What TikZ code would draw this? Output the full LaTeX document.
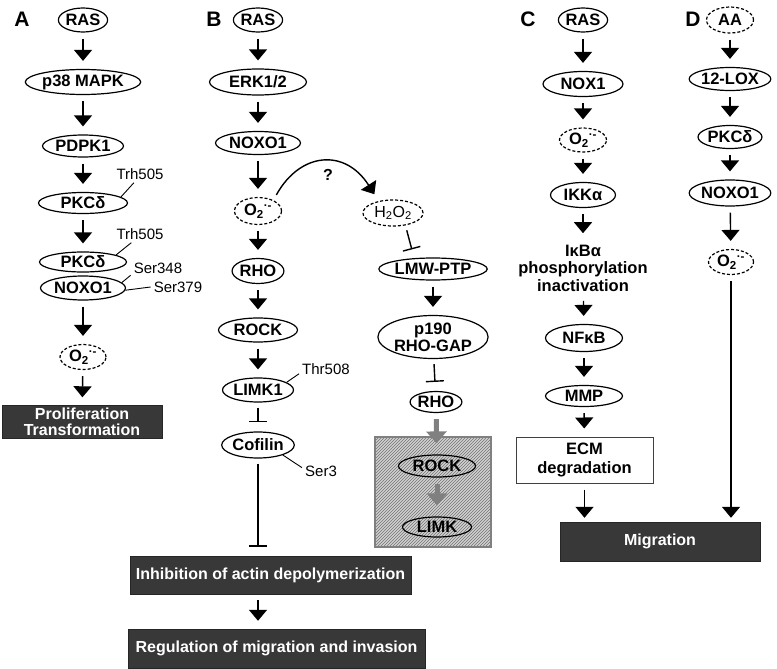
\documentclass[tikz,border=0pt]{standalone}
\usepackage{fontspec}
\setmainfont{Liberation Sans}
\usetikzlibrary{shapes.geometric,arrows.meta,patterns}

\begin{document}
\begin{tikzpicture}[x=1pt,y=-1pt,
    prot/.style={ellipse,draw,line width=1.2pt,inner sep=0pt,font=\bfseries\fontsize{16.5}{18}\selectfont},
    ros/.style={prot,dash pattern=on 3pt off 2pt},
    act/.style={-{Triangle[width=18pt,length=11pt]},line width=1.4pt,shorten <=6pt,shorten >=8pt},
    inh/.style={-{Bar[width=18pt]},line width=1.4pt,shorten <=5pt,shorten >=9pt},
    gact/.style={-{Triangle[width=20pt,length=12pt]},line width=5pt,black!50,shorten <=6pt,shorten >=11pt},
    site/.style={font=\fontsize{15}{17}\selectfont,inner sep=3pt},
    tick/.style={line width=0.9pt},
    outbox/.style={draw=black!85,fill=black!78,text=white,align=center,inner sep=0pt,font=\bfseries\fontsize{16}{16.5}\selectfont},
    hatchbox/.style={draw=black!50,line width=1.2pt,preaction={fill=black!18},pattern=north east lines,pattern color=black!55,inner sep=0pt},
    panel/.style={font=\bfseries\fontsize{21}{23}\selectfont}]
  \useasboundingbox (0,0) rectangle (777,669);

  % A
  \node[panel] (labA) at (22,19) {A};
  \node[prot,minimum width=49,minimum height=24] (rasA) at (83,20) {RAS};
  \node[prot,minimum width=109,minimum height=25] (p38) at (83,82) {p38 MAPK};
  \node[prot,minimum width=81,minimum height=22] (pdpk) at (83,146) {PDPK1};
  \node[prot,minimum width=89,minimum height=21] (pkcA) at (83,203) {PKCδ};
  \node[prot,minimum width=87,minimum height=20] (pkcB) at (83,262) {PKCδ};
  \node[prot,minimum width=85,minimum height=24] (noxoA) at (83,288) {NOXO1};
  \node[ros,minimum width=46,minimum height=25] (o2A) at (83,357) {O\textsubscript{2}\textsuperscript{·-}};
  \node[outbox,minimum width=160,minimum height=33] (prolif) at (82,422) {Proliferation\\Transformation};
  \node[site] (trhA) at (140,174) {Trh505};
  \node[site] (trhB) at (140,234) {Trh505};
  \node[site] (ser348) at (158,268) {Ser348};
  \node[site] (ser379) at (178,287) {Ser379};
  \draw[tick] (pkcA.9) -- (trhA.-125);
  \draw[tick] (pkcB.12) -- (trhB.-135);
  \draw[tick] (noxoA.8) -- (ser348.195);
  \draw[tick] (noxoA.-3) -- (ser379.west);
  \draw[act] (rasA) -- (p38);
  \draw[act] (p38) -- (pdpk);
  \draw[act] (pdpk) -- (pkcA);
  \draw[act] (pkcA) -- (pkcB);
  \draw[act] (noxoA) -- (o2A);
  \draw[act] (o2A) -- (prolif);

  % B
  \node[panel] (labB) at (214,19) {B};
  \node[prot,minimum width=49,minimum height=24] (rasB) at (258,20) {RAS};
  \node[prot,minimum width=97,minimum height=26] (erk) at (258,82) {ERK1/2};
  \node[prot,minimum width=85,minimum height=23] (noxoB) at (258,143) {NOXO1};
  \node[ros,minimum width=47,minimum height=27] (o2B) at (258,211) {O\textsubscript{2}\textsuperscript{·-}};
  \node[prot,minimum width=50,minimum height=25] (rhoB) at (258,271) {RHO};
  \node[prot,minimum width=79,minimum height=24] (rockB) at (258,330) {ROCK};
  \node[prot,minimum width=71,minimum height=24] (limk1) at (258,390) {LIMK1};
  \node[prot,minimum width=70,minimum height=26] (cofilin) at (258,445) {Cofilin};
  \node[site] (thr508) at (326,369) {Thr508};
  \node[site] (ser3) at (321,471) {Ser3};
  \draw[tick] (limk1.15) -- (thr508.190);
  \draw[tick] (cofilin.-22) -- (ser3.170);

  \node[ros,font=\fontsize{16}{18}\selectfont,minimum width=60,minimum height=26] (h2o2) at (393,213) {H\textsubscript{2}O\textsubscript{2}};
  \node[font=\bfseries\fontsize{16}{18}\selectfont] (qmark) at (328,175) {?};
  \node[prot,minimum width=95,minimum height=22] (lmw) at (433,269) {LMW-PTP};
  \node[prot,minimum width=93,minimum height=43,align=center,font=\bfseries\fontsize{16.5}{17}\selectfont] (p190) at (433,337) {p190\\RHO-GAP};
  \node[prot,minimum width=48,minimum height=21] (rhoR) at (436,402) {RHO};
  \node[hatchbox,minimum width=116,minimum height=110] (rhobox) at (433,492) {};
  \node[prot,minimum width=77,minimum height=22] (rockR) at (437,466) {ROCK};
  \node[prot,minimum width=69,minimum height=20] (limkR) at (437,527) {LIMK};

  \node[outbox,minimum width=281,minimum height=38] (inhib) at (270.5,575) {Inhibition of actin depolymerization};
  \node[outbox,minimum width=297,minimum height=39] (regul) at (276.5,648.5) {Regulation of migration and invasion};

  \draw[act] (rasB) -- (erk);
  \draw[act] (erk) -- (noxoB);
  \draw[act] (noxoB) -- (o2B);
  \draw[act] (o2B) -- (rhoB);
  \draw[act] (rhoB) -- (rockB);
  \draw[act] (rockB) -- (limk1);
  \draw[inh] (limk1) -- (cofilin);
  \draw[inh] (cofilin) -- (cofilin |- inhib.north);
  \draw[act] (cofilin |- inhib.south) -- (cofilin |- regul.north);
  \draw[act] (o2B.35) .. controls (300,152) and (345,148) .. (h2o2.140);
  \draw[inh] (h2o2.-45) -- (lmw.150);
  \draw[act] (lmw) -- (p190);
  \draw[inh] (p190.-88) -- (rhoR);
  \draw[gact] (rhoR) -- (rockR);
  \draw[gact] (rockR) -- (limkR);

  % C
  \node[panel] (labC) at (528,19) {C};
  \node[prot,minimum width=49,minimum height=24] (rasC) at (583,20) {RAS};
  \node[prot,minimum width=80,minimum height=25] (nox1) at (583,84) {NOX1};
  \node[ros,minimum width=47,minimum height=24] (o2C) at (583,140) {O\textsubscript{2}\textsuperscript{·-}};
  \node[prot,minimum width=65,minimum height=25] (ikka) at (583,195) {IKKα};
  \node[align=center,font=\bfseries\fontsize{16.5}{17.5}\selectfont] (ikb) at (583,268) {IκBα\\phosphorylation\\inactivation};
  \node[prot,minimum width=77,minimum height=27] (nfkb) at (584,338) {NFκB};
  \node[prot,minimum width=77,minimum height=21] (mmp) at (584,396) {MMP};
  \node[draw=black!75,line width=1pt,align=center,inner sep=0pt,minimum width=137,minimum height=46,font=\bfseries\fontsize{16.5}{19}\selectfont] (ecm) at (584.5,460) {ECM\\degradation};
  \node[outbox,minimum width=200,minimum height=39] (mig) at (660,541.5) {Migration};
  \draw[act] (rasC) -- (nox1);
  \draw[act] (nox1) -- (o2C);
  \draw[act] (o2C) -- (ikka);
  \draw[act] (ikka) -- (ikb);
  \draw[act] (ikb) -- (nfkb);
  \draw[act] (nfkb) -- (mmp);
  \draw[act] (mmp) -- (ecm);
  \draw[act,shorten >=4pt] (ecm) -- (ecm |- mig.north);

  % D
  \node[panel] (labD) at (693,19) {D};
  \node[ros,minimum width=47,minimum height=26] (aa) at (730,20) {AA};
  \node[prot,minimum width=80,minimum height=23] (lox) at (730,79) {12-LOX};
  \node[prot,minimum width=64,minimum height=23] (pkcD) at (730,137) {PKCδ};
  \node[prot,minimum width=75,minimum height=26] (noxoD) at (730,193) {NOXO1};
  \node[ros,minimum width=45,minimum height=25] (o2D) at (731,262) {O\textsubscript{2}\textsuperscript{·-}};
  \draw[act] (aa) -- (lox);
  \draw[act] (lox) -- (pkcD);
  \draw[act] (pkcD) -- (noxoD);
  \draw[act] (noxoD) -- (o2D);
  \draw[act,shorten >=4pt] (o2D) -- (o2D |- mig.north);
\end{tikzpicture}
\end{document}
